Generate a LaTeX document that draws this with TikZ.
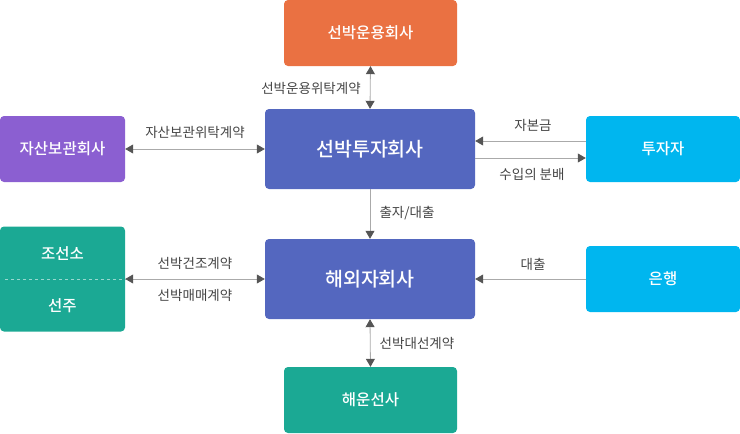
\documentclass[tikz,border=0pt]{standalone}
\usepackage{fontspec}
\setmainfont{Noto Sans CJK KR}[BoldFont={Noto Sans CJK KR Medium}]
\usetikzlibrary{arrows.meta}
\definecolor{orangebox}{HTML}{EA7142}
\definecolor{bluebox}{HTML}{5467BF}
\definecolor{purplebox}{HTML}{8B5FD1}
\definecolor{cyanbox}{HTML}{00B6EF}
\definecolor{tealbox}{HTML}{1BA994}
\definecolor{linegray}{HTML}{AAAAAA}
\definecolor{tipgray}{HTML}{555555}
\definecolor{labelgray}{HTML}{444444}

\begin{document}
\begin{tikzpicture}[x=1pt, y=-1pt,
    box/.style={rounded corners=4pt, text=white, inner sep=0pt, font=\fontsize{15.5}{18}\selectfont\bfseries},
    bigbox/.style={box, minimum width=210pt, minimum height=80pt, fill=bluebox, font=\fontsize{19.5}{22}\selectfont\bfseries},
    lbl/.style={text=labelgray, font=\fontsize{13.5}{16}\selectfont, inner sep=0pt},
    conn/.style={draw=linegray, line width=0.8pt},
    tipboth/.style={conn, {Triangle[width=9pt,length=8pt,color=tipgray]}-{Triangle[width=9pt,length=8pt,color=tipgray]}},
    tipend/.style={conn, -{Triangle[width=9pt,length=8pt,color=tipgray]}}]
    \useasboundingbox (0,0) rectangle (740,434);
    % boxes
    \node[box, fill=orangebox, minimum width=173pt, minimum height=66pt] (opco) at (370.5,33) {선박운용회사};
    \node[bigbox] (shipfund) at (370,149) {선박투자회사};
    \node[box, fill=purplebox, minimum width=125pt, minimum height=66pt] (custody) at (62.5,149) {자산보관회사};
    \node[box, fill=cyanbox, minimum width=154pt, minimum height=66pt] (investor) at (663,149) {투자자};
    \node[bigbox] (subsid) at (370,279) {해외자회사};
    \node[box, fill=tealbox, minimum width=125pt, minimum height=105pt] (builder) at (62.5,279) {};
    \node[box, fill=cyanbox, minimum width=154pt, minimum height=66pt] (bank) at (663,279) {은행};
    \node[box, fill=tealbox, minimum width=173pt, minimum height=66pt] (shipping) at (370.5,400) {해운선사};
    % shipyard / shipowner split
    \draw[dashed, draw=tealbox!45!white, line width=0.8pt] (5,279) -- (builder.east);
    \node[box] (yard) at (62.5,254) {조선소};
    \node[box] (owner) at (62.5,306) {선주};
    % connectors
    \draw[tipboth] (opco.south) -- (shipfund.north);
    \draw[tipboth] (custody.east) -- (shipfund.west);
    \draw[tipend] ([yshift=8pt]investor.west) -- ([yshift=8pt]shipfund.east);
    \draw[tipend] ([yshift=-9pt]shipfund.east) -- ([yshift=-9pt]investor.west);
    \draw[tipend] (shipfund.south) -- (subsid.north);
    \draw[tipboth] (builder.east) -- (subsid.west);
    \draw[tipend] (bank.west) -- (subsid.east);
    \draw[tipboth] (subsid.south) -- (shipping.north);
    % labels
    \node[lbl] (lopco) at (311,88) {선박운용위탁계약};
    \node[lbl] (lcustody) at (195,132) {자산보관위탁계약};
    \node[lbl] (lcapital) at (533,125) {자본금};
    \node[lbl] (lprofit) at (532,174) {수입의 분배};
    \node[lbl] (lloan) at (407,213) {출자/대출};
    \node[lbl] (lbuild) at (195,263) {선박건조계약};
    \node[lbl] (ltrade) at (195,295) {선박매매계약};
    \node[lbl] (lbank) at (533,264) {대출};
    \node[lbl] (lcharter) at (417,343) {선박대선계약};
\end{tikzpicture}
\end{document}
